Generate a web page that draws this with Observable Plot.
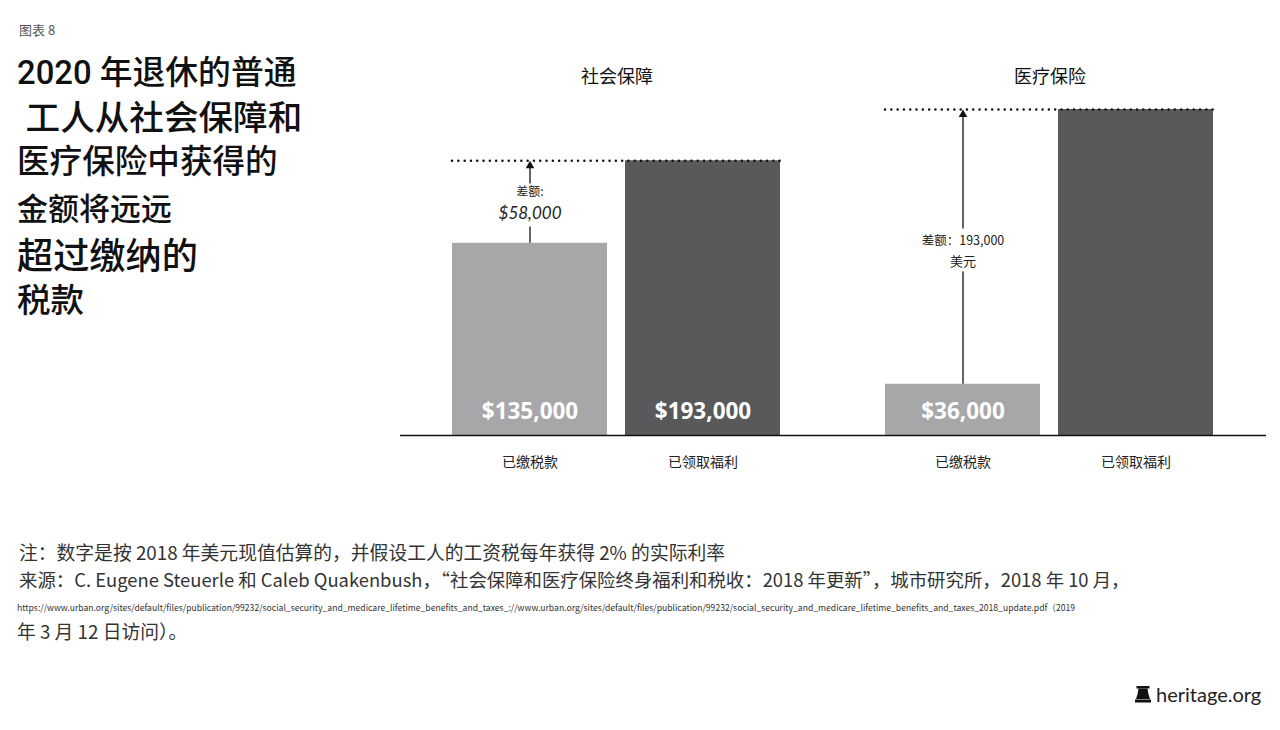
<!DOCTYPE html>
<html><head><meta charset="utf-8">
<script src="https://cdn.jsdelivr.net/npm/d3@7"></script>
<script src="https://cdn.jsdelivr.net/npm/@observablehq/plot@0.6"></script>
<style>
  html,body{margin:0;padding:0;background:#fff;}
  body{width:1280px;height:730px;position:relative;overflow:hidden;font-family:"Noto Sans CJK SC","Noto Sans",sans-serif;color:#111;}
  .abs{position:absolute;white-space:nowrap;}
  #kicker{left:19px;top:20px;font-size:13px;color:#555;}
  .tl{left:17px;font-family:Roboto,"Noto Sans CJK SC",sans-serif;font-weight:500;color:#111;line-height:1;}
  .note{left:19px;font-size:18.8px;color:#333;line-height:1;}
  #url{left:17px;top:601px;font-size:9px;color:#333;transform-origin:0 0;}
  #chart{left:400px;top:40px;}
  #logo{left:1135px;top:682px;font-family:"Lato","Noto Sans",sans-serif;font-size:20px;color:#222;display:flex;align-items:center;gap:5px;}
</style></head>
<body>
<div id="kicker" class="abs">图表 8</div>
<div class="abs tl" style="top:57px;font-size:32.8px;">2020 年退休的普通</div>
<div class="abs tl" style="top:101px;font-size:34.6px;">&nbsp;工人从社会保障和</div>
<div class="abs tl" style="top:146px;font-size:32.6px;">医疗保险中获得的</div>
<div class="abs tl" style="top:194px;font-size:31px;">金额将远远</div>
<div class="abs tl" style="top:239px;font-size:36.2px;">超过缴纳的</div>
<div class="abs tl" style="top:284px;font-size:33.5px;">税款</div>
<div id="chart" class="abs"></div>
<div class="abs note" style="top:543px;">注：数字是按 2018 年美元现值估算的，并假设工人的工资税每年获得 2% 的实际利率</div>
<div class="abs note" style="top:570px;font-size:18.4px;">来源：C. Eugene Steuerle 和 Caleb Quakenbush，“社会保障和医疗保险终身福利和税收：2018 年更新”，城市研究所，2018 年 10 月，</div>
<div id="url" class="abs">https://www.urban.org/sites/default/files/publication/99232/social_security_and_medicare_lifetime_benefits_and_taxes_://www.urban.org/sites/default/files/publication/99232/social_security_and_medicare_lifetime_benefits_and_taxes_2018_update.pdf（2019</div>
<div class="abs note" style="top:622px;left:17px;">年 3 月 12 日访问）。</div>
<div id="logo" class="abs"><svg width="16" height="17" viewBox="0 0 16 17"><rect x="1.5" y="0" width="13" height="2.5" fill="#111"/><path d="M3.5 2.5 L12.5 2.5 Q13 8 15 13 L1 13 Q3 8 3.5 2.5 Z" fill="#111"/><rect x="0" y="13.5" width="16" height="3" fill="#111"/></svg><span>heritage.org</span></div>
<script>
// ---- data ----
const programs = ["社会保障", "医疗保险"];
const categories = ["已缴税款", "已领取福利"];
const taxesPaid = [135000, 36000];
const benefitsReceived = [193000, 229000];
const paidLabels = ["$135,000", "$36,000"];
const benefitLabels = ["$193,000", ""];
const diffTitles = ["差额:", "差额：193,000"];
const diffValues = ["$58,000", "美元"];

const rows = [];
programs.forEach((p, i) => {
  rows.push({program: p, category: categories[0], value: taxesPaid[i], label: paidLabels[i]});
  rows.push({program: p, category: categories[1], value: benefitsReceived[i], label: benefitLabels[i]});
});
const diffs = programs.map((p, i) => ({
  program: p, paid: taxesPaid[i], benefit: benefitsReceived[i],
  mid: (taxesPaid[i] + benefitsReceived[i]) / 2,
  title: diffTitles[i], value: diffValues[i]
}));

const W = 866, H = 450, MT = 69, MB = 55;
const yMax = d3.max(benefitsReceived);
const unitsPerPx = yMax / (H - MT - MB);
const px = (n) => n * unitsPerPx;

const ss = diffs.filter(d => d.program === programs[0]);
const mc = diffs.filter(d => d.program === programs[1]);

const chart = Plot.plot({
  width: W, height: H,
  marginLeft: 0, marginRight: 0, marginTop: MT, marginBottom: MB,
  style: {fontFamily: '"Noto Sans CJK SC", sans-serif', fontSize: "14px", color: "#222", background: "transparent"},
  fx: {domain: programs, padding: 0, axis: null},
  x: {domain: categories, paddingInner: 0.104, paddingOuter: 0.303, tickSize: 0, tickPadding: 22, label: null},
  y: {domain: [0, yMax], nice: false, axis: null},
  color: {domain: categories, range: ["#a7a7aa", "#59595b"]},
  marks: [
    Plot.barY(rows, {fx: "program", x: "category", y: "value", fill: "category"}),
    Plot.ruleY(diffs, {fx: "program", y: "benefit", x1: () => categories[0], x2: () => categories[1],
      stroke: "#111", strokeWidth: 2.4, strokeDasharray: "0.1,6.2", strokeLinecap: "round"}),
    Plot.ruleX(diffs, {fx: "program", x: () => categories[0], y1: "paid", y2: d => d.mid - px(25), stroke: "#111", strokeWidth: 1.3}),
    Plot.ruleX(diffs, {fx: "program", x: () => categories[0], y1: d => d.mid + px(18), y2: d => d.benefit - px(6), stroke: "#111", strokeWidth: 1.3}),
    Plot.dot(diffs, {fx: "program", x: () => categories[0], y: "benefit", symbol: "triangle", r: 3.2, fill: "#111", dy: 5}),
    Plot.text(ss, {fx: "program", x: () => categories[0], y: "mid", text: "title", dy: -9.5, fontSize: 12, fill: "#222"}),
    Plot.text(ss, {fx: "program", x: () => categories[0], y: "mid", text: "value", dy: 11.5, fontSize: 17, fontStyle: "italic", fontFamily: "Lato, sans-serif", fill: "#222"}),
    Plot.text(mc, {fx: "program", x: () => categories[0], y: "mid", text: "title", dy: -5.4, fontSize: 12.5, fill: "#222"}),
    Plot.text(mc, {fx: "program", x: () => categories[0], y: "mid", text: "value", dy: 14.6, fontSize: 13, fill: "#222"}),
    Plot.text(rows, {fx: "program", x: "category", y: () => 0, text: "label", dy: -24, fill: "#fff", fontSize: 22.5, fontWeight: 700, fontFamily: '"Open Sans", sans-serif'}),
    Plot.text(programs, {fx: d => d, frameAnchor: "top", text: d => d, dy: -39, fontSize: 18, fill: "#111"}),
    Plot.ruleY([0], {stroke: "#111", strokeWidth: 1.5})
  ]
});
document.getElementById("chart").appendChild(chart);

// fit URL line to its width in the reference
const url = document.getElementById("url");
const w = url.getBoundingClientRect().width;
url.style.transform = `scaleX(${1058 / w})`;
</script>
</body></html>
